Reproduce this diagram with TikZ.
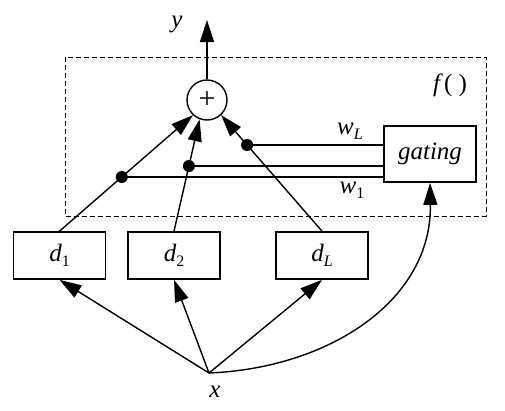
\documentclass[tikz,border=0pt]{standalone}
\usepackage{fontspec}
\setmainfont{Liberation Serif}
\usetikzlibrary{arrows.meta}
\newcommand\sbs[1]{\raisebox{-5pt}{\fontsize{16}{16}\selectfont #1}}
\begin{document}
\begin{tikzpicture}[x=1pt,y=-1pt,
  box/.style={draw,line width=1.7pt,minimum width=92pt,minimum height=47pt,inner sep=0pt,font=\fontsize{25}{25}\selectfont\itshape},
  conn/.style={line width=1.4pt},
  arr/.style={conn,-{Triangle[length=22pt,width=14pt]}},
  dot/.style={circle,fill,inner sep=0pt,minimum size=12pt},
  lbl/.style={font=\fontsize{25}{25}\selectfont\itshape,inner sep=0pt}]
\useasboundingbox (0,0) rectangle (505,410);
% dashed f() region
\draw[line width=1pt,dash pattern=on 5pt off 3pt] (65,57) rectangle (486,216);
\node[lbl] (f) at (450,85) {f\,\upshape( )};
% sum node
\node[draw,circle,line width=1.4pt,minimum size=40pt,inner sep=0pt,font=\fontsize{30}{30}\selectfont] (sum) at (207,100) {+};
\coordinate (ytip) at (207,20);
\draw[arr] (sum.north) -- (ytip);
\node[lbl] (y) at (177,24) {y};
% experts
\node[box] (d1) at (59.5,255.5) {d\sbs{\upshape 1}};
\node[box] (d2) at (174,255.5) {d\sbs{\upshape 2}};
\node[box] (dL) at (322,255.5) {d\sbs{L}};
% gating
\node[box,minimum width=92pt,minimum height=56pt] (g) at (430,154) {gating};
% x
\coordinate (xp) at (209,373);
\node[lbl] (x) at (215,392) {x};
% expert outputs to sum
\draw[arr] (d1.north) -- (sum.227);
\draw[arr] (d2.north) -- (sum.249);
\draw[arr] (dL.north) -- (sum.313);
% dots at intersections
\node[dot] (p1) at (intersection of d1.north--sum.227 and 0,177--10,177) {};
\node[dot] (p2) at (intersection of d2.north--sum.249 and 0,166--10,166) {};
\node[dot] (pL) at (intersection of dL.north--sum.313 and 0,145--10,145) {};
\draw[conn] (p1.center) -- (p1.center -| g.west);
\draw[conn] (p2.center) -- (p2.center -| g.west);
\draw[conn] (pL.center) -- (pL.center -| g.west);
\node[lbl] (wL) at (350,131) {w\sbs{L}};
\node[lbl] (w1) at (352,190) {w\sbs{\upshape 1}};
% input arrows
\draw[arr] (xp) -- (d1.south);
\draw[arr] (xp) -- (d2.south);
\draw[arr] (xp) -- (dL.south);
\draw[arr] (xp) .. controls (330,368) and (432,300) .. (g.south);
\end{tikzpicture}
\end{document}
